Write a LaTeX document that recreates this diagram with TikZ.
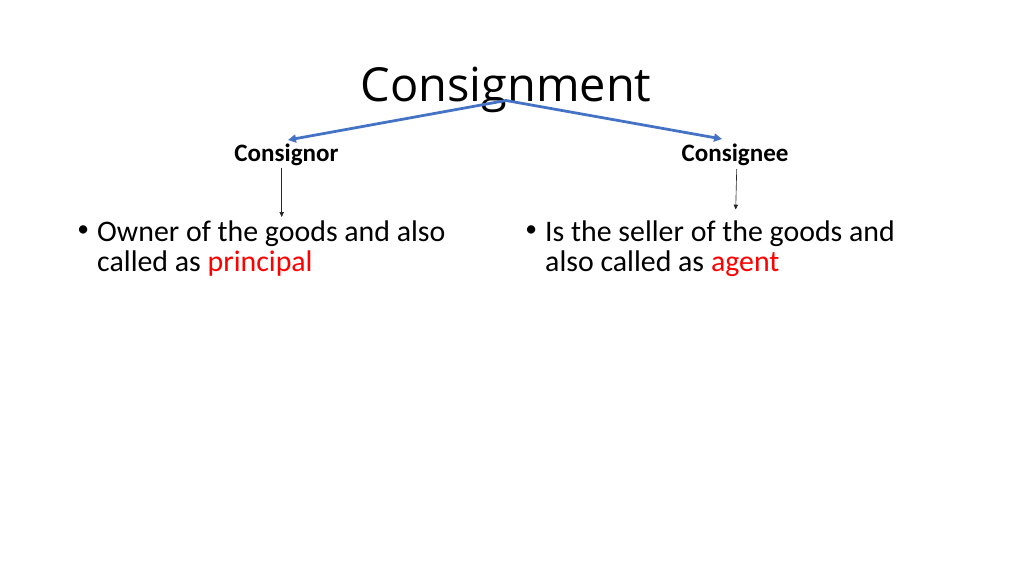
\documentclass[tikz,border=0pt]{standalone}
\usepackage{fontspec}
\setmainfont{Carlito}
\newfontfamily\titlefont{Open Sans}
\usetikzlibrary{arrows.meta, positioning}
\definecolor{linkblue}{HTML}{4472C4}
\definecolor{keyred}{HTML}{FF0000}

\tikzset{
  head/.style={anchor=base, inner sep=0pt, font=\bfseries\fontsize{23.5}{28}\selectfont},
  point/.style={anchor=base west, inner sep=0pt, align=left, font=\fontsize{28}{28.1}\selectfont},
  dot/.style={anchor=base, inner sep=0pt, font=\fontsize{22}{22}\selectfont},
  split/.style={linkblue, line width=2.6pt, -{Triangle[length=7.5pt, width=7.5pt]}},
  lead/.style={black!85, line width=0.6pt, -{Triangle[length=4.5pt, width=4pt]}}
}

\begin{document}
\begin{tikzpicture}[x=0.9375pt, y=-0.9375pt]
  \useasboundingbox (0,0) rectangle (1024,575);
  \node[anchor=base, inner sep=0pt, font=\titlefont\fontsize{44}{53}\selectfont] (title) at (506,101.7) {Consignment};
  \coordinate (fork) at (506,100.5);

  \node[head] (cnor) at (286.5,161.7) {Consignor};
  \node[head] (cnee) at (735,161.7) {Consignee};
  \coordinate (cnortip) at (288,140);
  \coordinate (cneetip) at (722,139);
  \draw[split] (fork) -- (cnortip);
  \draw[split] (fork) -- (cneetip);

  % last line carries the base anchor
  \node[dot] (b1) at (83.3,236.5) {•};
  \node[point] (p1) at (97,271.7) {Owner of the goods and also\\called as \textcolor{keyred}{principal}};
  \node[dot] (b2) at (531.3,236.5) {•};
  \node[point] (p2) at (545,271.7) {Is the seller of the goods and\\also called as \textcolor{keyred}{agent}};

  \coordinate (cnorfoot) at (281.7,168);
  \coordinate (cneefoot) at (736.7,169);
  \coordinate (p1top) at (281.7,217);
  \coordinate (p2top) at (735.7,209.5);
  \draw[lead] (cnorfoot) -- (p1top);
  \draw[lead] (cneefoot) -- (p2top);
\end{tikzpicture}
\end{document}
